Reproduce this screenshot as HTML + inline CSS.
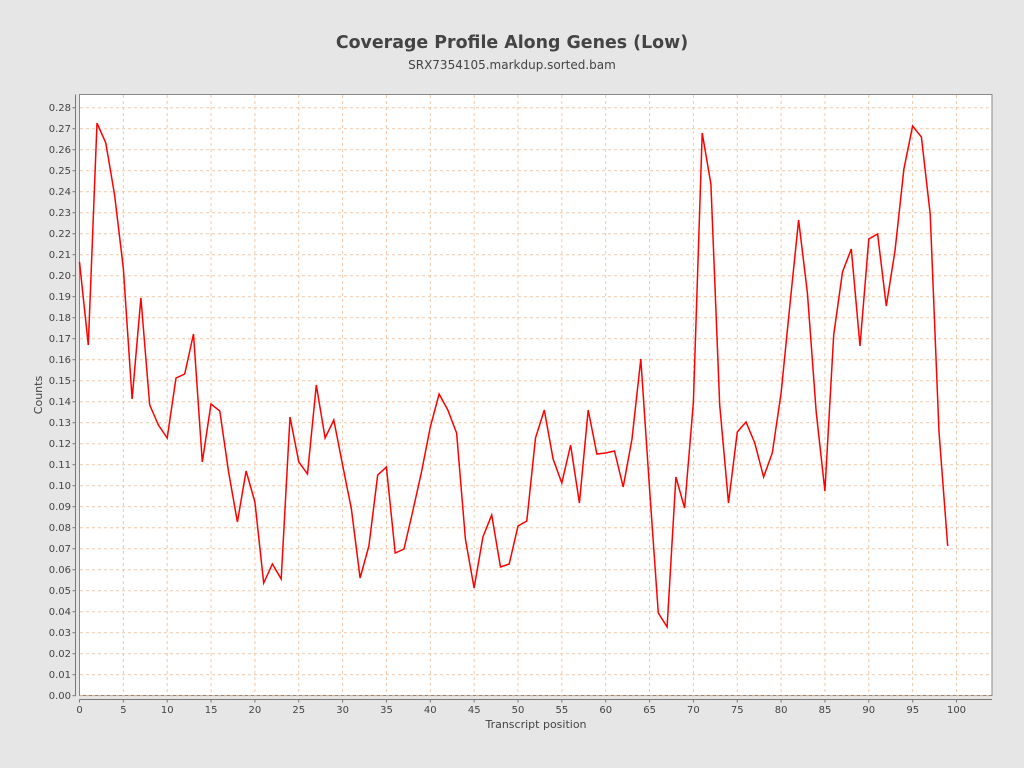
<!DOCTYPE html>
<html><head><meta charset="utf-8"><style>
html,body{margin:0;padding:0;background:#e6e6e6;}
svg{display:block;font-family:"DejaVu Sans","Liberation Sans",sans-serif;}
</style></head><body>
<svg id="s" width="1024" height="768" xmlns="http://www.w3.org/2000/svg">
<rect width="1024" height="768" fill="#e6e6e6"/>
<text x="512" y="48" text-anchor="middle" font-size="17.4" font-weight="bold" fill="#444">Coverage Profile Along Genes (Low)</text>
<text x="512" y="69" text-anchor="middle" font-size="12" fill="#444">SRX7354105.markdup.sorted.bam</text>
<rect x="79.5" y="94.5" width="912.5" height="601" fill="#fff" stroke="#888" stroke-width="1"/>
<g id="grid" stroke="#f0c8a8" stroke-width="1" stroke-dasharray="3,3"></g>
<line x1="75.5" y1="94.5" x2="75.5" y2="695.7" stroke="#777"/>
<line x1="79.5" y1="699.5" x2="992" y2="699.5" stroke="#777"/>
<g id="ticks" stroke="#777"></g>
<g font-size="10" fill="#444" text-anchor="end">
<text x="71" y="699.2">0.00</text><text x="71" y="678.2">0.01</text><text x="71" y="657.2">0.02</text><text x="71" y="636.2">0.03</text><text x="71" y="615.2">0.04</text><text x="71" y="594.2">0.05</text><text x="71" y="573.2">0.06</text><text x="71" y="552.2">0.07</text><text x="71" y="531.2">0.08</text><text x="71" y="510.2">0.09</text><text x="71" y="489.2">0.10</text><text x="71" y="468.2">0.11</text><text x="71" y="447.2">0.12</text><text x="71" y="426.2">0.13</text><text x="71" y="405.2">0.14</text><text x="71" y="384.2">0.15</text><text x="71" y="363.2">0.16</text><text x="71" y="342.2">0.17</text><text x="71" y="321.2">0.18</text><text x="71" y="300.2">0.19</text><text x="71" y="279.2">0.20</text><text x="71" y="258.2">0.21</text><text x="71" y="237.2">0.22</text><text x="71" y="216.2">0.23</text><text x="71" y="195.2">0.24</text><text x="71" y="174.2">0.25</text><text x="71" y="153.2">0.26</text><text x="71" y="132.2">0.27</text><text x="71" y="111.2">0.28</text>
</g>
<g font-size="10" fill="#444" text-anchor="middle">
<text x="79.5" y="713">0</text><text x="123.4" y="713">5</text><text x="167.2" y="713">10</text><text x="211.1" y="713">15</text><text x="254.9" y="713">20</text><text x="298.8" y="713">25</text><text x="342.6" y="713">30</text><text x="386.5" y="713">35</text><text x="430.3" y="713">40</text><text x="474.2" y="713">45</text><text x="518" y="713">50</text><text x="561.9" y="713">55</text><text x="605.7" y="713">60</text><text x="649.6" y="713">65</text><text x="693.4" y="713">70</text><text x="737.3" y="713">75</text><text x="781.1" y="713">80</text><text x="825" y="713">85</text><text x="868.8" y="713">90</text><text x="912.7" y="713">95</text><text x="956.5" y="713">100</text>
</g>
<text x="536" y="728" text-anchor="middle" font-size="11" fill="#444">Transcript position</text>
<text x="42" y="395" text-anchor="middle" font-size="11" fill="#444" transform="rotate(-90 42 395)">Counts</text>
<polyline id="line" fill="none" stroke="#ff0000" stroke-width="1.5" points=""/>
</svg>
<script>
var ys=[262,345,123,143,195,268,399,298,405,425,438,378,374,334,462,404,411,472,522,471,502,583,564,579,417,462,474,385,438,420,465,509,578,546,475,467,553,549,511,472,427,394,410,433,539,588,537,515,567,564,526,521,438,410,459,483,445,503,410,454,453,451,487,439,359,488,613,627,477,508,402,133,184,405,503,432,422,443,477,453,393,305,220,293,412,491,335,272,249,346,239,234,306,250,169,126,137,214,432,546];
var p=ys.map(function(y,i){return (79.5+8.77*i).toFixed(1)+","+y;}).join(" ");
document.getElementById("line").setAttribute("points",p);
var g=document.getElementById("grid"),t=document.getElementById("ticks"),h="";
for(var k=0;k<=28;k++){var y=695.7-21*k;h+='<line x1="80" x2="992" y1="'+y+'" y2="'+y+'"/>';}
for(var j=1;j<=20;j++){var x=79.5+43.85*j;h+='<line y1="95" y2="695" x1="'+x+'" x2="'+x+'"/>';}
g.innerHTML=h;h="";
for(var k=0;k<=28;k++){var y=695.7-21*k;h+='<line x1="72.5" x2="75.5" y1="'+y+'" y2="'+y+'"/>';}
for(var j=0;j<=20;j++){var x=79.5+43.85*j;h+='<line y1="699.5" y2="702.5" x1="'+x+'" x2="'+x+'"/>';}
t.innerHTML=h;
</script>
</body></html>
